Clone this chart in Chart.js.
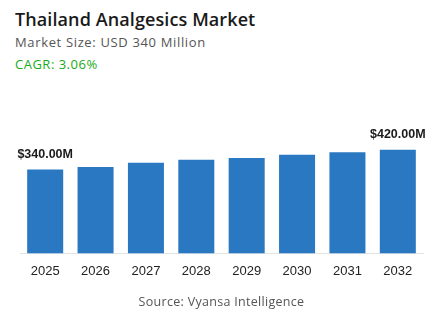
<!DOCTYPE html>
<html>
<head>
<meta charset="utf-8">
<script src="https://cdn.jsdelivr.net/npm/chart.js@4/dist/chart.umd.min.js"></script>
<style>
    body { margin: 0; width: 443px; height: 332px; background: #fff; overflow: hidden; position: relative; font-family: "Open Sans", sans-serif; }
    .title { position: absolute; left: 15px; top: 7px; font-size: 18px; font-weight: 600; color: #1a1a1a; letter-spacing: 0.1px; }
    .size { position: absolute; left: 15px; top: 33px; font-size: 13px; color: #555; letter-spacing: 0.65px; }
    .cagr { position: absolute; left: 15px; top: 55px; font-size: 13px; color: #1aaa1a; letter-spacing: 0.5px; }
    .source { position: absolute; left: 0; width: 443px; top: 293px; text-align: center; font-size: 12.5px; color: #555; letter-spacing: 0.3px; }
    .wrap { position: absolute; left: 0; top: 100px; width: 443px; height: 195px; }
</style>
</head>
<body>
<div class="title">Thailand Analgesics Market</div>
<div class="size">Market Size: USD 340 Million</div>
<div class="cagr">CAGR: 3.06%</div>
<div class="wrap"><canvas id="marketChart"></canvas></div>
<div class="source">Source: Vyansa Intelligence</div>
<script>
const years = ["2025", "2026", "2027", "2028", "2029", "2030", "2031", "2032"];
const marketValues = [340, 350, 367, 379, 387, 400, 410, 420];
const labelledBars = [0, 7]; // only first and last get a value label

// draws "$340.00M" style labels above the chosen bars
const valueLabels = {
    id: "valueLabels",
    afterDatasetsDraw(chart) {
        const ctx = chart.ctx;
        const meta = chart.getDatasetMeta(0);
        ctx.save();
        ctx.font = "bold 12.5px 'Liberation Sans', Arial, sans-serif";
        ctx.fillStyle = "#1a1a1a";
        ctx.textAlign = "center";
        ctx.textBaseline = "middle";
        labelledBars.forEach((i) => {
            const bar = meta.data[i];
            ctx.fillText("$" + marketValues[i].toFixed(2) + "M", bar.x, bar.y - 15);
        });
        ctx.restore();
    }
};

new Chart(document.getElementById("marketChart"), {
    type: "bar",
    data: {
        labels: years,
        datasets: [{
            data: marketValues,
            backgroundColor: "#2b78c2",
            categoryPercentage: 0.715,
            barPercentage: 1
        }]
    },
    options: {
        responsive: true,
        maintainAspectRatio: false,
        animation: false,
        layout: { padding: { left: 20, right: 20, top: 30, bottom: 6 } },
        plugins: {
            legend: { display: false },
            tooltip: { enabled: false }
        },
        scales: {
            x: {
                grid: { display: false, drawTicks: false },
                border: { display: true, color: "#e3e3e3", width: 1 },
                ticks: {
                    color: "#222",
                    padding: 10,
                    font: { family: "'Liberation Sans', Arial, sans-serif", size: 13 }
                }
            },
            y: {
                display: false,
                beginAtZero: true,
                max: 500
            }
        }
    },
    plugins: [valueLabels]
});
</script>
</body>
</html>
